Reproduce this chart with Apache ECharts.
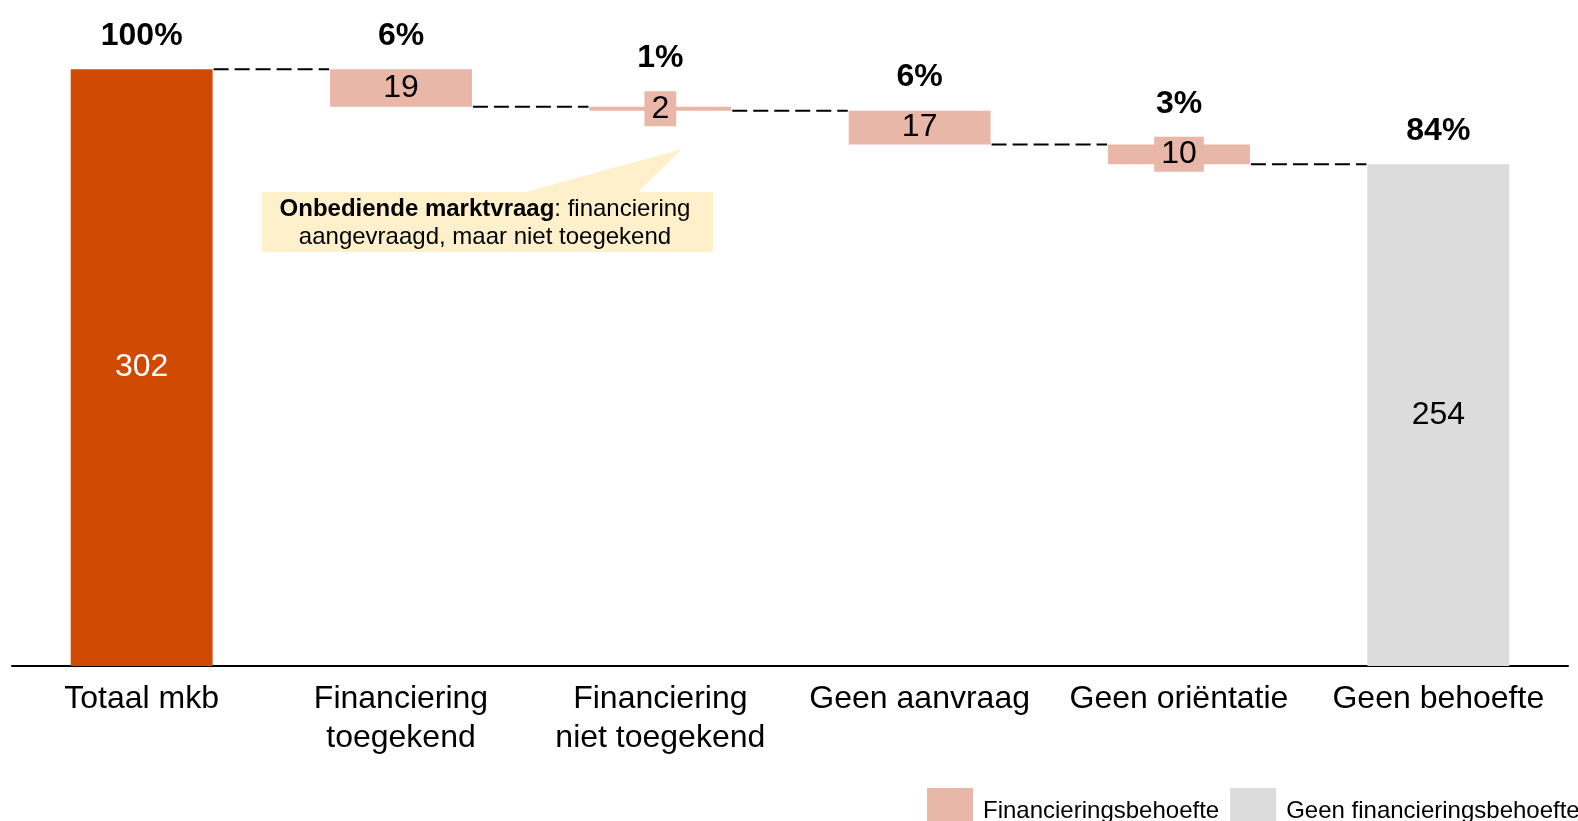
<!DOCTYPE html>
<html>
<head>
<meta charset="utf-8">
<title>Financieringsbehoefte mkb</title>
<script src="https://cdn.jsdelivr.net/npm/echarts@6/dist/echarts.min.js"></script>
<style>
    html, body { margin: 0; padding: 0; background: #fff; }
    #main { width: 1578px; height: 821px; }
</style>
</head>
<body>
<div id="main"></div>
<script>
(function () {
    'use strict';

    // 数据
    var categories = ['Totaal mkb', 'Financiering\ntoegekend', 'Financiering\nniet toegekend', 'Geen aanvraag', 'Geen oriëntatie', 'Geen behoefte'];
    var amounts = [302, 19, 2, 17, 10, 254];
    var shares = ['100%', '6%', '1%', '6%', '3%', '84%'];
    var stepTypes = ['total', 'need', 'need', 'need', 'need', 'rest'];

    var FONT = '"Liberation Sans", Arial, sans-serif';
    var BAR_RATIO = 0.547;
    var COLOR_TOTAL = '#D04A02';
    var COLOR_NEED = '#E8B7A7';
    var COLOR_REST = '#DCDCDC';

    // waterfall: onzichtbare basis + zichtbare stukken
    var baseData = [], totalData = [], needData = [], restData = [];
    var connectors = [], tops = [];
    var running = 0;
    for (var i = 0; i < amounts.length; i++) {
        var base = 0;
        if (stepTypes[i] === 'total') {
            running = amounts[i];
        } else if (stepTypes[i] === 'need') {
            running = running - amounts[i];
            base = running;
        }
        baseData.push(base);
        totalData.push(stepTypes[i] === 'total' ? amounts[i] : '-');
        if (stepTypes[i] === 'need') {
            // kleine stukjes krijgen een label-vlak zodat het getal leesbaar blijft
            needData.push(amounts[i] < 15
                ? { value: amounts[i], label: { backgroundColor: COLOR_NEED, padding: [3, 7, 2, 7] } }
                : amounts[i]);
        } else {
            needData.push('-');
        }
        restData.push(stepTypes[i] === 'rest' ? amounts[i] : '-');
        tops.push([i, base + amounts[i], base, shares[i]]);
        if (i < amounts.length - 1) {
            connectors.push([i, stepTypes[i] === 'total' ? amounts[i] : running]);
        }
    }

    var option = {
        animation: false,
        textStyle: { fontFamily: FONT },
        grid: { left: 12, right: 10, top: 14, bottom: 155 },
        legend: {
            data: ['Financieringsbehoefte', 'Geen financieringsbehoefte'],
            left: 922,
            top: 783,
            width: 800,
            icon: 'rect',
            itemWidth: 46,
            itemHeight: 46,
            itemGap: 11,
            selectedMode: false,
            textStyle: { fontSize: 24, color: '#000', fontFamily: FONT, padding: [0, 0, 0, 5] }
        },
        xAxis: {
            type: 'category',
            data: categories,
            axisTick: { show: false },
            axisLine: { lineStyle: { color: '#000', width: 2 } },
            axisLabel: {
                interval: 0,
                margin: 14,
                fontSize: 32,
                lineHeight: 39,
                color: '#000',
                fontFamily: FONT
            }
        },
        yAxis: {
            type: 'value',
            min: 0,
            max: 330,
            show: false,
            splitLine: { show: false }
        },
        series: [
            {
                name: 'base',
                type: 'bar',
                stack: 'w',
                barWidth: (BAR_RATIO * 100) + '%',
                itemStyle: { color: 'transparent' },
                data: baseData
            },
            {
                name: 'Totaal',
                type: 'bar',
                stack: 'w',
                itemStyle: { color: COLOR_TOTAL },
                label: { show: true, position: 'inside', color: '#fff', fontSize: 32, fontFamily: FONT },
                data: totalData
            },
            {
                name: 'Financieringsbehoefte',
                type: 'bar',
                stack: 'w',
                itemStyle: { color: COLOR_NEED },
                label: {
                    show: true,
                    position: 'inside',
                    color: '#000',
                    fontSize: 32,
                    lineHeight: 30,
                    fontFamily: FONT
                },
                data: needData
            },
            {
                name: 'Geen financieringsbehoefte',
                type: 'bar',
                stack: 'w',
                itemStyle: { color: COLOR_REST },
                label: { show: true, position: 'inside', color: '#000', fontSize: 32, fontFamily: FONT },
                data: restData
            },
            {
                // stippellijnen tussen de balken
                name: 'connectors',
                type: 'custom',
                silent: true,
                renderItem: function (params, api) {
                    var p0 = api.coord([api.value(0), api.value(1)]);
                    var p1 = api.coord([api.value(0) + 1, api.value(1)]);
                    var half = api.size([1, 0])[0] * BAR_RATIO / 2;
                    return {
                        type: 'line',
                        shape: { x1: p0[0] + half + 1, y1: p0[1], x2: p1[0] - half - 1, y2: p1[1] },
                        style: { stroke: '#000', lineWidth: 2, lineDash: [15, 6] }
                    };
                },
                data: connectors
            },
            {
                // percentages boven de balken
                name: 'shares',
                type: 'custom',
                silent: true,
                renderItem: function (params, api) {
                    var pTop = api.coord([api.value(0), api.value(1)]);
                    var pBot = api.coord([api.value(0), api.value(2)]);
                    var mid = (pTop[1] + pBot[1]) / 2;
                    var boxTop = Math.min(pTop[1], mid - 17.5);
                    return {
                        type: 'text',
                        style: {
                            x: pTop[0],
                            y: boxTop - 33,
                            text: tops[params.dataIndex][3],
                            align: 'center',
                            verticalAlign: 'middle',
                            font: 'bold 32px ' + FONT,
                            fill: '#000'
                        }
                    };
                },
                data: tops
            }
        ],
        graphic: [
            {
                type: 'polygon',
                silent: true,
                shape: {
                    points: [[262, 192], [526, 192], [682, 149], [638, 192], [713, 192], [713, 252], [262, 252]]
                },
                style: { fill: '#FDF0CB' }
            },
            {
                type: 'text',
                silent: true,
                x: 485,
                y: 223,
                style: {
                    text: '{b|Onbediende marktvraag}: financiering\naangevraagd, maar niet toegekend',
                    align: 'center',
                    verticalAlign: 'middle',
                    fontSize: 24,
                    lineHeight: 28,
                    fontFamily: FONT,
                    fill: '#000',
                    rich: {
                        b: { fontWeight: 'bold', fontSize: 24, lineHeight: 28, fontFamily: FONT, fill: '#000' }
                    }
                }
            }
        ]
    };

    var myChart = echarts.init(document.getElementById('main'));
    myChart.setOption(option);
})();
</script>
</body>
</html>
